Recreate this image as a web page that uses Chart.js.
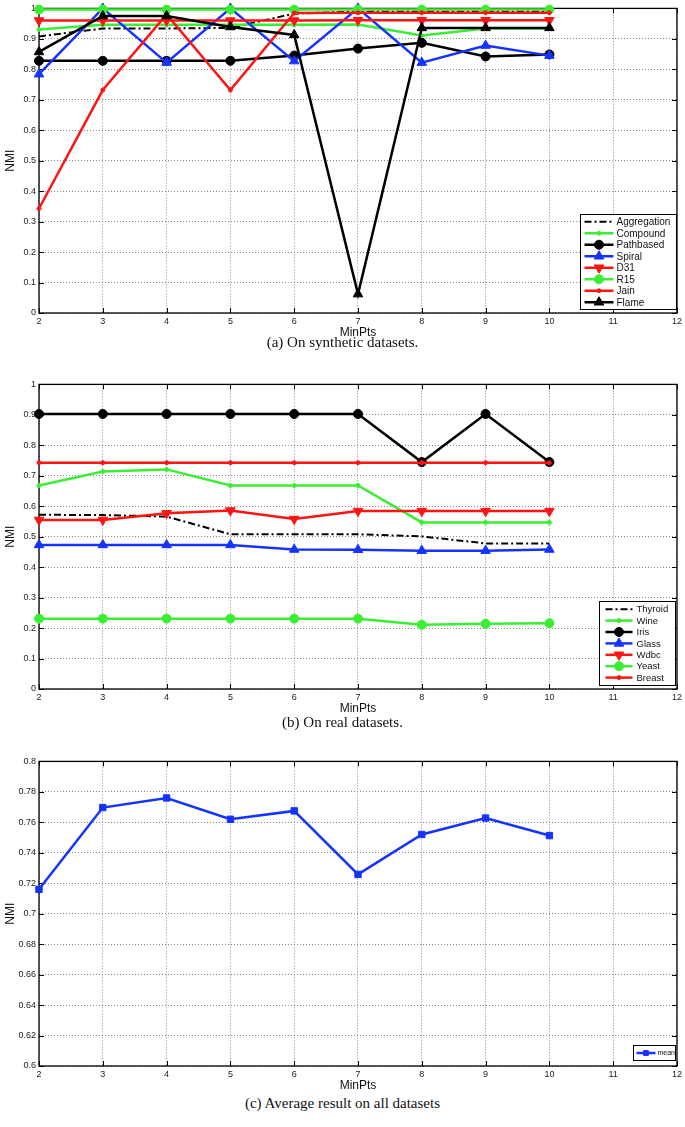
<!DOCTYPE html>
<html lang="en">
<head>
<meta charset="UTF-8" />
<script src="https://cdn.jsdelivr.net/npm/chart.js"></script>
<title>NMI vs MinPts</title>
<style>
  body { margin: 0; width: 685px; height: 1127px; position: relative; background: #fff; overflow: hidden; }
  .box { position: absolute; left: 0; width: 685px; height: 340px; }
  .cap { position: absolute; left: 0; width: 685px; text-align: center; font-family: "Liberation Serif", serif; font-size: 15px; color: #111; }
</style>
</head>
<body>
  <div class="box" style="top: 0px"><canvas id="chartA" width="685" height="340"></canvas></div>
  <div class="cap" style="top: 334px">(a) On synthetic datasets.</div>
  <div class="box" style="top: 376px"><canvas id="chartB" width="685" height="340"></canvas></div>
  <div class="cap" style="top: 714px">(b) On real datasets.</div>
  <div class="box" style="top: 753px"><canvas id="chartC" width="685" height="340"></canvas></div>
  <div class="cap" style="top: 1095px">(c) Average result on all datasets</div>
</body>
</html>
<script>
  // x values shared by every series
  const minPts = [2, 3, 4, 5, 6, 7, 8, 9, 10];
  const xTicks = [2, 3, 4, 5, 6, 7, 8, 9, 10, 11, 12];
  const yTicksAB = ["0", "0.1", "0.2", "0.3", "0.4", "0.5", "0.6", "0.7", "0.8", "0.9", "1"];
  const yTicksC = ["0.6", "0.62", "0.64", "0.66", "0.68", "0.7", "0.72", "0.74", "0.76", "0.78", "0.8"];

  // (a) synthetic datasets
  const aggregation = [0.908, 0.934, 0.934, 0.936, 0.983, 0.99, 0.99, 0.99, 0.99];
  const compound = [0.931, 0.946, 0.946, 0.946, 0.946, 0.947, 0.911, 0.934, 0.934];
  const pathbased = [0.828, 0.828, 0.828, 0.828, 0.845, 0.868, 0.887, 0.842, 0.849];
  const spiral = [0.784, 1.0, 0.822, 1.0, 0.827, 1.0, 0.822, 0.878, 0.845];
  const d31 = [0.96, 0.96, 0.96, 0.96, 0.96, 0.961, 0.961, 0.961, 0.961];
  const r15 = [0.996, 0.996, 0.996, 0.996, 0.996, 0.996, 0.996, 0.996, 0.996];
  const jain = [0.343, 0.732, 0.98, 0.732, 0.985, 0.986, 0.986, 0.986, 0.986];
  const flame = [0.857, 0.975, 0.975, 0.939, 0.913, 0.062, 0.936, 0.936, 0.936];

  // (b) real datasets
  const thyroid = [0.572, 0.571, 0.566, 0.508, 0.508, 0.508, 0.501, 0.478, 0.478];
  const wine = [0.668, 0.714, 0.721, 0.668, 0.668, 0.668, 0.547, 0.547, 0.547];
  const iris = [0.903, 0.903, 0.903, 0.903, 0.903, 0.903, 0.745, 0.903, 0.745];
  const glass = [0.473, 0.473, 0.473, 0.473, 0.458, 0.457, 0.454, 0.454, 0.458];
  const wdbc = [0.555, 0.555, 0.577, 0.586, 0.558, 0.584, 0.584, 0.584, 0.584];
  const yeast = [0.231, 0.231, 0.231, 0.231, 0.231, 0.231, 0.211, 0.214, 0.216];
  const breast = [0.743, 0.743, 0.743, 0.743, 0.743, 0.743, 0.743, 0.743, 0.743];

  // (c) average
  const mean = [0.716, 0.7697, 0.776, 0.762, 0.7675, 0.7258, 0.752, 0.7628, 0.7513];

  const GREEN = "#3aee33";
  const BLUE = "#1433ff";
  const RED = "#ff1414";
  const BLACK = "#000";
  const FONT = "Liberation Sans";

  function series(label, vals, color, style) {
    return Object.assign(
      {
        label: label,
        data: vals.map((y, i) => ({ x: minPts[i], y: y })),
        borderColor: color,
        backgroundColor: color,
        pointBackgroundColor: color,
        pointBorderColor: color,
        borderWidth: 2.5,
        pointBorderWidth: 1,
        pointRadius: 0,
        tension: 0,
        fill: false,
        clip: false,
      },
      style
    );
  }

  // box + inward tick marks, matlab style
  const frame = {
    id: "frame",
    beforeDatasetsDraw(chart) {
      const { ctx, chartArea: a, scales } = chart;
      ctx.save();
      ctx.strokeStyle = "#000";
      ctx.lineWidth = 1.3;
      ctx.strokeRect(a.left, a.top, a.right - a.left, a.bottom - a.top);
      ctx.lineWidth = 1;
      ctx.beginPath();
      scales.x.ticks.forEach((t) => {
        const x = Math.round(scales.x.getPixelForValue(t.value)) + 0.5;
        ctx.moveTo(x, a.bottom); ctx.lineTo(x, a.bottom - 5);
        ctx.moveTo(x, a.top); ctx.lineTo(x, a.top + 5);
      });
      scales.y.ticks.forEach((t) => {
        const y = Math.round(scales.y.getPixelForValue(t.value)) + 0.5;
        ctx.moveTo(a.left, y); ctx.lineTo(a.left + 5, y);
        ctx.moveTo(a.right, y); ctx.lineTo(a.right - 5, y);
      });
      ctx.stroke();
      ctx.restore();
    },
  };

  // legend box inside the plot, bottom right
  const boxLegend = {
    id: "boxLegend",
    afterDatasetsDraw(chart, args, o) {
      const { ctx, chartArea: a } = chart;
      const x0 = Math.round(a.right - o.right - o.width) + 0.5;
      const y0 = Math.round(a.bottom - o.bottom - o.height) + 0.5;
      ctx.save();
      ctx.fillStyle = "#fff";
      ctx.fillRect(x0, y0, o.width, o.height);
      ctx.strokeStyle = "#000";
      ctx.lineWidth = 1;
      ctx.strokeRect(x0, y0, o.width, o.height);
      ctx.font = o.font;
      ctx.textBaseline = "middle";
      chart.data.datasets.forEach((d, i) => {
        const y = y0 + o.pad + o.rowH * (i + 0.5);
        ctx.strokeStyle = d.borderColor;
        ctx.lineWidth = d.borderWidth;
        ctx.setLineDash(d.borderDash || []);
        ctx.beginPath();
        ctx.moveTo(x0 + o.lineFrom, y);
        ctx.lineTo(x0 + o.lineTo, y);
        ctx.stroke();
        ctx.setLineDash([]);
        if (d.pointRadius > 0) {
          ctx.fillStyle = d.pointBackgroundColor;
          ctx.strokeStyle = d.pointBorderColor;
          ctx.lineWidth = 1;
          Chart.helpers.drawPoint(
            ctx,
            { pointStyle: d.pointStyle, radius: d.pointRadius * o.markScale, rotation: d.pointRotation || 0, borderWidth: 1 },
            x0 + (o.lineFrom + o.lineTo) / 2,
            y
          );
        }
        ctx.fillStyle = "#111";
        ctx.fillText(d.label, x0 + o.textX, y + 0.5);
      });
      ctx.restore();
    },
  };

  function makeChart(id, datasets, yMin, yMax, yLabels, legendOpts) {
    const n = datasets.length;
    datasets.forEach((d, i) => (d.order = n - i)); // later series on top
    new Chart(document.getElementById(id).getContext("2d"), {
      type: "line",
      data: { datasets: datasets },
      options: {
        responsive: false,
        animation: false,
        layout: { padding: { top: 7, right: 5, left: 0, bottom: 0 } },
        plugins: { legend: { display: false }, tooltip: { enabled: false }, boxLegend: legendOpts },
        scales: {
          x: {
            type: "linear",
            min: 2,
            max: 12,
            afterBuildTicks: (s) => { s.ticks = xTicks.map((v) => ({ value: v })); },
            afterFit: (s) => { s.height = 27; },
            ticks: { font: { family: FONT, size: 9 }, color: "#222", padding: 3, maxRotation: 0, autoSkip: false },
            grid: { color: "#888", lineWidth: 1, drawTicks: false },
            border: { display: false, dash: [1, 2] },
            title: { display: true, text: "MinPts", font: { family: FONT, size: 12 }, color: "#111", padding: 0 },
          },
          y: {
            min: yMin,
            max: yMax,
            afterBuildTicks: (s) => { s.ticks = yLabels.map((l) => ({ value: parseFloat(l) })); },
            afterFit: (s) => { s.width = 39; },
            ticks: { font: { family: FONT, size: 9 }, color: "#222", padding: 3, callback: (v, i) => yLabels[i] },
            grid: { color: "#888", lineWidth: 1, drawTicks: false },
            border: { display: false, dash: [1, 2] },
            title: { display: true, text: "NMI", font: { family: FONT, size: 12 }, color: "#111", padding: 3 },
          },
        },
      },
      plugins: [frame, boxLegend],
    });
  }

  makeChart(
    "chartA",
    [
      series("Aggregation", aggregation, BLACK, { borderWidth: 2, borderDash: [7, 3, 2, 3] }),
      series("Compound", compound, GREEN, { pointStyle: "circle", pointRadius: 2 }),
      series("Pathbased", pathbased, BLACK, { pointStyle: "circle", pointRadius: 4.5 }),
      series("Spiral", spiral, BLUE, { pointStyle: "triangle", pointRadius: 5.5 }),
      series("D31", d31, RED, { pointStyle: "triangle", pointRotation: 180, pointRadius: 5.5 }),
      series("R15", r15, GREEN, { pointStyle: "circle", pointRadius: 4.5 }),
      series("Jain", jain, RED, { pointStyle: "circle", pointRadius: 2 }),
      series("Flame", flame, BLACK, { pointStyle: "triangle", pointRadius: 5.5 }),
    ],
    0, 1, yTicksAB,
    { width: 96, height: 95, right: 1, bottom: 4, pad: 1.5, rowH: 11.5, lineFrom: 4, lineTo: 33, textX: 36, font: "10px " + FONT, markScale: 1 }
  );

  makeChart(
    "chartB",
    [
      series("Thyroid", thyroid, BLACK, { borderWidth: 2, borderDash: [7, 3, 2, 3] }),
      series("Wine", wine, GREEN, { pointStyle: "circle", pointRadius: 2 }),
      series("Iris", iris, BLACK, { pointStyle: "circle", pointRadius: 4.5 }),
      series("Glass", glass, BLUE, { pointStyle: "triangle", pointRadius: 5.5 }),
      series("Wdbc", wdbc, RED, { pointStyle: "triangle", pointRotation: 180, pointRadius: 5.5 }),
      series("Yeast", yeast, GREEN, { pointStyle: "circle", pointRadius: 4.5 }),
      series("Breast", breast, RED, { pointStyle: "circle", pointRadius: 2 }),
    ],
    0, 1, yTicksAB,
    { width: 76, height: 84, right: 2, bottom: 4, pad: 2, rowH: 11.4, lineFrom: 6, lineTo: 33, textX: 37, font: "9.5px " + FONT, markScale: 1 }
  );

  makeChart(
    "chartC",
    [series("mean", mean, BLUE, { pointStyle: "rect", pointRadius: 4.5 })],
    0.6, 0.8, yTicksC,
    { width: 42, height: 15, right: 2, bottom: 6, pad: 0, rowH: 15, lineFrom: 3, lineTo: 22, textX: 24, font: "7px " + FONT, markScale: 0.75 }
  );
</script>
